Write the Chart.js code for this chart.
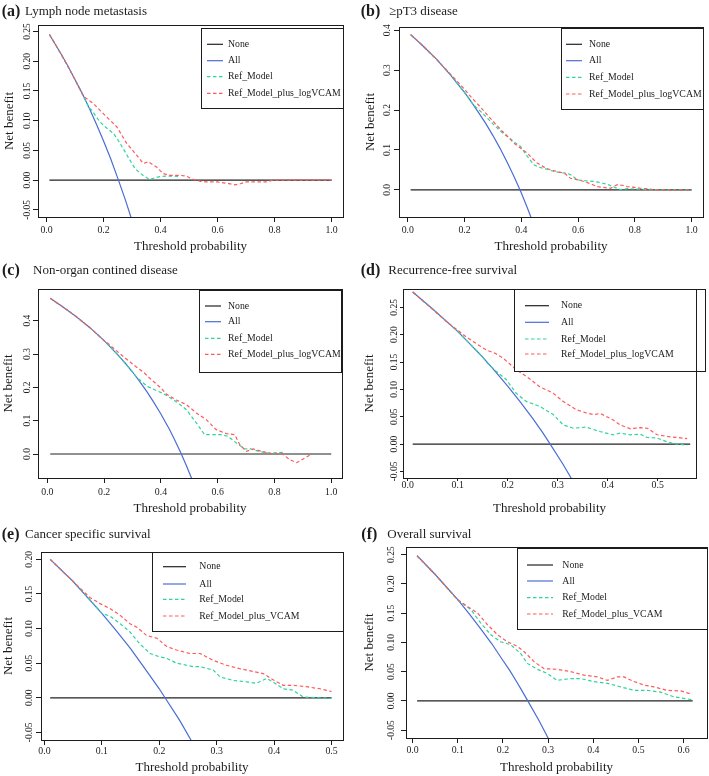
<!DOCTYPE html>
<html>
<head>
<meta charset="utf-8">
<script src="https://cdn.jsdelivr.net/npm/chart.js@4.4.0/dist/chart.umd.min.js"></script>
<style>
  html, body { margin: 0; padding: 0; background: #fff; }
  #wrap { position: relative; width: 709px; height: 776px; }
  #wrap canvas { position: absolute; left: 0; top: 0; }
</style>
</head>
<body>
<div id="wrap">
  <canvas id="pa" width="709" height="776"></canvas>
  <canvas id="pb" width="709" height="776"></canvas>
  <canvas id="pc" width="709" height="776"></canvas>
  <canvas id="pd" width="709" height="776"></canvas>
  <canvas id="pe" width="709" height="776"></canvas>
  <canvas id="pf" width="709" height="776"></canvas>
</div>
<script>
// ---- names and tick labels ----
const namesLog = ['None', 'All', 'Ref_Model', 'Ref_Model_plus_logVCAM'];
const namesVcam = ['None', 'All', 'Ref_Model', 'Ref_Model_plus_VCAM'];
const panelTags = ['(a)', '(b)', '(c)', '(d)', '(e)', '(f)'];
const panelTitles = ['Lymph node metastasis', '\u2265pT3 disease', 'Non-organ contined disease',
  'Recurrence-free survival', 'Cancer specific survival', 'Overall survival'];

const xTicksUnit = ['0.0', '0.2', '0.4', '0.6', '0.8', '1.0'];
const xTicksHalf = ['0.0', '0.1', '0.2', '0.3', '0.4', '0.5'];
const xTicksSix = ['0.0', '0.1', '0.2', '0.3', '0.4', '0.5', '0.6'];
const yTicksQuarter = ['-0.05', '0.00', '0.05', '0.10', '0.15', '0.20', '0.25'];
const yTicksFifth = ['-0.05', '0.00', '0.05', '0.10', '0.15', '0.20'];
const yTicksTenth = ['0.0', '0.1', '0.2', '0.3', '0.4'];

// ---- (a) Lymph node metastasis ----
const aNoneX = [0.01, 1.0];
const aNoneY = [0, 0];
const aAllX = [0.01, 0.05, 0.075, 0.10, 0.125, 0.15, 0.175, 0.20, 0.225, 0.25, 0.275, 0.30];
const aAllY = [0.245, 0.213, 0.192, 0.169, 0.146, 0.121, 0.094, 0.066, 0.036, 0.003, -0.031, -0.068];
const aRefX = [0.01, 0.05, 0.10, 0.15, 0.158, 0.187, 0.21, 0.234, 0.25, 0.269, 0.292, 0.31, 0.325, 0.339, 0.362, 0.38, 0.397, 0.432, 0.468];
const aRefY = [0.245, 0.213, 0.169, 0.121, 0.118, 0.098, 0.088, 0.079, 0.068, 0.053, 0.034, 0.020, 0.013, 0.008, 0.001, 0.004, 0.006, 0.007, 0.006];
const aPlusX = [0.01, 0.05, 0.10, 0.13, 0.164, 0.205, 0.246, 0.281, 0.316, 0.339, 0.357, 0.386, 0.409, 0.433, 0.468, 0.49, 0.515, 0.54, 0.56, 0.60, 0.64, 0.661, 0.68, 0.70, 0.74, 0.77, 0.795, 0.85, 0.9, 0.95, 1.0];
const aPlusY = [0.245, 0.213, 0.169, 0.141, 0.129, 0.109, 0.090, 0.062, 0.042, 0.028, 0.031, 0.022, 0.011, 0.008, 0.008, 0.007, 0.001, -0.002, -0.003, -0.003, -0.006, -0.008, -0.006, -0.003, -0.003, -0.003, 0, 0, 0, 0, 0];

// ---- (b) >=pT3 disease ----
const bNoneX = [0.01, 1.0];
const bNoneY = [0, 0];
const bAllX = [0.01, 0.05, 0.10, 0.15, 0.20, 0.225, 0.25, 0.275, 0.30, 0.325, 0.35, 0.375, 0.40, 0.42, 0.44];
const bAllY = [0.389, 0.363, 0.328, 0.288, 0.244, 0.219, 0.193, 0.166, 0.136, 0.104, 0.069, 0.032, -0.008, -0.043, -0.080];
const bRefX = [0.01, 0.05, 0.10, 0.15, 0.20, 0.23, 0.256, 0.28, 0.303, 0.33, 0.35, 0.375, 0.397, 0.41, 0.421, 0.444, 0.46, 0.479, 0.515, 0.54, 0.562, 0.58, 0.597, 0.62, 0.656, 0.68, 0.703, 0.73, 0.75, 0.773, 0.8, 0.85, 0.9, 0.95, 1.0];
const bRefY = [0.389, 0.363, 0.328, 0.288, 0.244, 0.214, 0.197, 0.180, 0.163, 0.145, 0.134, 0.120, 0.109, 0.095, 0.084, 0.063, 0.057, 0.054, 0.046, 0.043, 0.042, 0.035, 0.025, 0.023, 0.021, 0.018, 0.014, 0.006, 0.000, 0.003, 0.002, 0.001, 0, 0, 0];
const bPlusX = [0.01, 0.05, 0.10, 0.15, 0.174, 0.20, 0.221, 0.25, 0.28, 0.30, 0.327, 0.35, 0.374, 0.40, 0.421, 0.44, 0.456, 0.48, 0.503, 0.538, 0.555, 0.573, 0.60, 0.62, 0.645, 0.667, 0.69, 0.714, 0.738, 0.76, 0.773, 0.80, 0.82, 0.85, 0.867, 0.9, 0.95, 1.0];
const bPlusY = [0.389, 0.363, 0.328, 0.290, 0.272, 0.252, 0.234, 0.212, 0.188, 0.172, 0.151, 0.135, 0.117, 0.103, 0.092, 0.078, 0.067, 0.057, 0.050, 0.044, 0.040, 0.029, 0.025, 0.021, 0.015, 0.008, 0.006, 0.004, 0.013, 0.011, 0.008, 0.006, 0.004, 0.002, 0, 0, -0.001, 0];

// ---- (c) Non-organ confined disease ----
const cNoneX = [0.01, 1.0];
const cNoneY = [0, 0];
const cAllX = [0.01, 0.05, 0.10, 0.15, 0.20, 0.25, 0.275, 0.30, 0.325, 0.35, 0.375, 0.40, 0.415, 0.43, 0.45, 0.47, 0.49, 0.51];
const cAllY = [0.467, 0.444, 0.413, 0.379, 0.340, 0.296, 0.272, 0.246, 0.218, 0.188, 0.155, 0.120, 0.097, 0.074, 0.040, 0.004, -0.035, -0.077];
const cRefX = [0.01, 0.05, 0.10, 0.15, 0.20, 0.25, 0.30, 0.313, 0.335, 0.354, 0.38, 0.407, 0.43, 0.454, 0.49, 0.525, 0.554, 0.578, 0.613, 0.636, 0.666, 0.695, 0.713, 0.748, 0.784, 0.831];
const cRefY = [0.467, 0.444, 0.413, 0.379, 0.340, 0.296, 0.246, 0.232, 0.215, 0.202, 0.192, 0.182, 0.170, 0.157, 0.133, 0.093, 0.058, 0.058, 0.058, 0.053, 0.033, 0.015, 0.016, 0.007, 0.003, 0.005];
const cPlusX = [0.01, 0.05, 0.10, 0.15, 0.20, 0.213, 0.25, 0.30, 0.342, 0.36, 0.40, 0.419, 0.454, 0.49, 0.525, 0.56, 0.595, 0.631, 0.66, 0.678, 0.701, 0.725, 0.76, 0.795, 0.825, 0.854, 0.878, 0.907, 0.931];
const cPlusY = [0.467, 0.444, 0.413, 0.379, 0.340, 0.332, 0.305, 0.270, 0.243, 0.228, 0.198, 0.180, 0.162, 0.148, 0.123, 0.103, 0.073, 0.061, 0.058, 0.028, 0.008, 0.015, 0.007, 0.000, 0.002, -0.017, -0.026, -0.012, 0.000];

// ---- (d) Recurrence-free survival ----
const dNoneX = [0.01, 0.565];
const dNoneY = [0, 0];
const dAllX = [0.01, 0.05, 0.10, 0.15, 0.175, 0.20, 0.225, 0.25, 0.27, 0.285, 0.31, 0.33];
const dAllY = [0.278, 0.247, 0.206, 0.159, 0.133, 0.106, 0.077, 0.047, 0.021, 0.000, -0.036, -0.067];
const dRefX = [0.01, 0.05, 0.10, 0.15, 0.157, 0.177, 0.197, 0.217, 0.237, 0.264, 0.291, 0.311, 0.331, 0.357, 0.384, 0.411, 0.425, 0.445, 0.465, 0.479, 0.499, 0.519, 0.539, 0.559];
const dRefY = [0.278, 0.247, 0.206, 0.159, 0.150, 0.133, 0.118, 0.093, 0.078, 0.069, 0.054, 0.035, 0.029, 0.031, 0.023, 0.017, 0.020, 0.017, 0.018, 0.012, 0.011, 0.004, 0.000, -0.002];
const dPlusX = [0.01, 0.05, 0.08, 0.10, 0.117, 0.14, 0.157, 0.175, 0.191, 0.217, 0.237, 0.264, 0.291, 0.311, 0.337, 0.357, 0.372, 0.385, 0.411, 0.425, 0.445, 0.465, 0.479, 0.499, 0.519, 0.539, 0.559];
const dPlusY = [0.278, 0.246, 0.222, 0.208, 0.196, 0.182, 0.172, 0.166, 0.157, 0.136, 0.124, 0.105, 0.093, 0.078, 0.063, 0.057, 0.054, 0.056, 0.044, 0.035, 0.028, 0.030, 0.029, 0.017, 0.014, 0.012, 0.010];

// ---- (e) Cancer specific survival ----
const eNoneX = [0.01, 0.50];
const eNoneY = [0, 0];
const eAllX = [0.01, 0.05, 0.10, 0.125, 0.15, 0.175, 0.20, 0.21, 0.235, 0.26];
const eAllY = [0.200, 0.168, 0.122, 0.097, 0.071, 0.042, 0.013, 0.000, -0.032, -0.068];
const eRefX = [0.01, 0.05, 0.08, 0.10, 0.114, 0.132, 0.149, 0.166, 0.184, 0.201, 0.213, 0.230, 0.248, 0.259, 0.271, 0.294, 0.306, 0.329, 0.352, 0.369, 0.387, 0.398, 0.416, 0.433, 0.451, 0.48, 0.50];
const eRefY = [0.200, 0.168, 0.141, 0.122, 0.118, 0.107, 0.095, 0.078, 0.064, 0.059, 0.057, 0.050, 0.047, 0.045, 0.045, 0.040, 0.030, 0.025, 0.023, 0.021, 0.028, 0.023, 0.013, 0.011, 0.001, 0.000, -0.001];
const ePlusX = [0.01, 0.05, 0.079, 0.097, 0.114, 0.132, 0.149, 0.161, 0.178, 0.196, 0.213, 0.230, 0.253, 0.271, 0.294, 0.317, 0.340, 0.364, 0.381, 0.398, 0.416, 0.433, 0.456, 0.48, 0.50];
const ePlusY = [0.200, 0.168, 0.145, 0.136, 0.129, 0.119, 0.107, 0.102, 0.090, 0.086, 0.074, 0.069, 0.064, 0.064, 0.054, 0.047, 0.042, 0.038, 0.035, 0.026, 0.018, 0.018, 0.016, 0.013, 0.009];

// ---- (f) Overall survival ----
const fNoneX = [0.01, 0.62];
const fNoneY = [0, 0];
const fAllX = [0.01, 0.05, 0.10, 0.125, 0.15, 0.175, 0.20, 0.215, 0.23, 0.24, 0.255, 0.28, 0.305];
const fAllY = [0.248, 0.216, 0.173, 0.149, 0.124, 0.098, 0.069, 0.052, 0.033, 0.020, 0.000, -0.034, -0.071];
const fRefX = [0.01, 0.05, 0.10, 0.129, 0.151, 0.173, 0.195, 0.217, 0.239, 0.254, 0.276, 0.298, 0.320, 0.350, 0.372, 0.401, 0.431, 0.460, 0.490, 0.519, 0.549, 0.578, 0.619];
const fRefY = [0.248, 0.216, 0.172, 0.156, 0.133, 0.113, 0.101, 0.096, 0.081, 0.064, 0.054, 0.047, 0.035, 0.038, 0.038, 0.033, 0.030, 0.024, 0.018, 0.018, 0.015, 0.007, 0.002];
const fPlusX = [0.01, 0.05, 0.10, 0.122, 0.144, 0.166, 0.188, 0.210, 0.232, 0.247, 0.269, 0.291, 0.320, 0.350, 0.379, 0.409, 0.431, 0.453, 0.468, 0.490, 0.512, 0.534, 0.563, 0.593, 0.619];
const fPlusY = [0.248, 0.216, 0.173, 0.161, 0.150, 0.130, 0.113, 0.101, 0.093, 0.084, 0.067, 0.055, 0.054, 0.050, 0.044, 0.041, 0.035, 0.041, 0.041, 0.033, 0.027, 0.024, 0.018, 0.017, 0.011];

// ---- styling ----
const FONT = "'Liberation Serif', 'Times New Roman', serif";
const INK = '#1c1c1c';
const lineStyles = [
  { color: '#222222', dash: [] },
  { color: '#4a6dd4', dash: [] },
  { color: '#2fd49c', dash: [3.5, 2.5] },
  { color: '#ff5a5a', dash: [3.5, 2.5] }
];

// page positions of each panel (plot box l, r, t, b and text anchors)
const panels = [
  { canvas: 'pa', left: 0, box: [38, 343, 25, 217], xr: [-0.03, 1.04], yr: [-0.062, 0.261],
    xt: xTicksUnit, yt: yTicksQuarter, names: namesLog, tick: 5,
    yTickX: 27, yTitleX: 10, xTickY: 230, xTitleY: 246.7, tag: [1.7, 25, 11.7],
    legend: { l: 201, r: 343, t: 28, b: 108, s1: 207, s2: 223, tx: 228, rows: [44.3, 60.7, 76.7, 93.3] },
    series: [[aNoneX, aNoneY], [aAllX, aAllY], [aRefX, aRefY], [aPlusX, aPlusY]] },
  { canvas: 'pb', left: 354, box: [399, 703, 27, 217], xr: [-0.031, 1.04], yr: [-0.068, 0.408],
    xt: xTicksUnit, yt: yTicksTenth, names: namesLog, tick: 5,
    yTickX: 387, yTitleX: 370.7, xTickY: 230, xTitleY: 246.7, tag: [360.7, 389, 11.7],
    legend: { l: 561, r: 703, t: 28, b: 109, s1: 566, s2: 582, tx: 589, rows: [44.3, 60.7, 77.3, 94] },
    series: [[bNoneX, bNoneY], [bAllX, bAllY], [bRefX, bRefY], [bPlusX, bPlusY]] },
  { canvas: 'pc', left: 0, box: [38, 342, 289, 478], xr: [-0.033, 1.038], yr: [-0.072, 0.495],
    xt: xTicksUnit, yt: yTicksTenth, names: namesLog, tick: 5,
    yTickX: 27, yTitleX: 9, xTickY: 492.3, xTitleY: 509, tag: [2, 33, 271],
    legend: { l: 199, r: 341, t: 290, b: 372, s1: 205, s2: 221, tx: 228, rows: [306, 321.7, 338.3, 354.3] },
    series: [[cNoneX, cNoneY], [cAllX, cAllY], [cRefX, cRefY], [cPlusX, cPlusY]] },
  { canvas: 'pd', left: 354, box: [403, 696, 289, 478], xr: [-0.0094, 0.5766], yr: [-0.062, 0.2835],
    xt: xTicksHalf, yt: yTicksQuarter, names: namesLog, tick: 3,
    yTickX: 394.5, yTitleX: 369.3, xTickY: 485, xTitleY: 508.3, tag: [360.7, 388.3, 271],
    legend: { l: 514, r: 705, t: 289, b: 371, s1: 525, s2: 549, tx: 561, rows: [305.7, 322.3, 339, 354] },
    series: [[dNoneX, dNoneY], [dAllX, dAllY], [dRefX, dRefY], [dPlusX, dPlusY]] },
  { canvas: 'pe', left: 0, box: [41, 343, 552, 740], xr: [-0.006, 0.52], yr: [-0.061, 0.2106],
    xt: xTicksHalf, yt: yTicksFifth, names: namesVcam, tick: 5,
    yTickX: 29.7, yTitleX: 9, xTickY: 751.7, xTitleY: 767.3, tag: [1.7, 25, 535],
    legend: { l: 152, r: 343, t: 552, b: 631, s1: 163, s2: 186, tx: 199.3, rows: [566.7, 584, 599.3, 616] },
    series: [[eNoneX, eNoneY], [eAllX, eAllY], [eRefX, eRefY], [ePlusX, ePlusY]] },
  { canvas: 'pf', left: 354, box: [406, 707, 547, 738], xr: [-0.0146, 0.6517], yr: [-0.0635, 0.263],
    xt: xTicksSix, yt: yTicksQuarter, names: namesVcam, tick: 5,
    yTickX: 391.3, yTitleX: 369.3, xTickY: 750, xTitleY: 767.3, tag: [361.3, 387.3, 535],
    legend: { l: 517, r: 707, t: 548, b: 629, s1: 527, s2: 553, tx: 562.3, rows: [565, 581, 597.7, 614] },
    series: [[fNoneX, fNoneY], [fAllX, fAllY], [fRefX, fRefY], [fPlusX, fPlusY]] }
];

// plot box, legend and panel heading
const panelDeco = {
  id: 'panelDeco',
  afterDraw(chart, args, o) {
    const ctx = chart.ctx;
    const a = chart.chartArea;
    const L = o.legend;
    ctx.save();
    ctx.fillStyle = '#fff';
    ctx.fillRect(L.l, L.t, L.r - L.l, L.b - L.t);
    ctx.strokeStyle = INK;
    ctx.lineWidth = 1;
    ctx.strokeRect(L.l + 0.5, L.t + 0.5, L.r - L.l, L.b - L.t);
    chart.data.datasets.forEach((ds, i) => {
      const y = L.rows[i];
      ctx.strokeStyle = ds.borderColor;
      ctx.lineWidth = ds.borderWidth;
      ctx.setLineDash(ds.borderDash);
      ctx.beginPath();
      ctx.moveTo(L.s1, y);
      ctx.lineTo(L.s2, y);
      ctx.stroke();
      ctx.setLineDash([]);
      ctx.fillStyle = INK;
      ctx.font = '9.8px ' + FONT;
      ctx.textAlign = 'left';
      ctx.textBaseline = 'middle';
      ctx.fillText(ds.label, L.tx, y);
    });
    ctx.strokeStyle = INK;
    ctx.lineWidth = 1;
    ctx.strokeRect(Math.round(a.left) + 0.5, Math.round(a.top) + 0.5,
      Math.round(a.right - a.left), Math.round(a.bottom - a.top));
    ctx.fillStyle = INK;
    ctx.textBaseline = 'middle';
    ctx.font = 'bold 16px ' + FONT;
    ctx.fillText(o.tag, o.tagPos[0], o.tagPos[2]);
    ctx.font = '13px ' + FONT;
    ctx.fillText(o.title, o.tagPos[1], o.tagPos[2]);
    ctx.restore();
  }
};

const measure = document.createElement('canvas').getContext('2d');
measure.font = '9.5px ' + FONT;

panels.forEach((p, k) => {
  const [l, r, t, b] = p.box;
  const xh = Math.min(40, 776 - b);
  const widest = Math.max(...p.yt.map(s => measure.measureText(s).width));
  const datasets = p.series.map((s, i) => ({
    label: p.names[i],
    data: s[0].map((x, j) => ({ x: x, y: s[1][j] })),
    borderColor: lineStyles[i].color,
    borderDash: lineStyles[i].dash,
    borderWidth: 1.2,
    pointRadius: 0,
    tension: 0,
    fill: false,
    order: 3 - i
  }));
  const axisGrid = { display: true, drawOnChartArea: false, drawTicks: true, tickLength: p.tick, color: INK, lineWidth: 1 };

  new Chart(document.getElementById(p.canvas), {
    type: 'line',
    data: { datasets: datasets },
    options: {
      responsive: false,
      animation: false,
      events: [],
      layout: { padding: { left: p.left, top: t, right: 709 - r, bottom: 776 - b - xh } },
      plugins: {
        legend: { display: false },
        tooltip: { enabled: false },
        panelDeco: { legend: p.legend, tag: panelTags[k], title: panelTitles[k], tagPos: p.tag }
      },
      scales: {
        x: {
          type: 'linear',
          min: p.xr[0],
          max: p.xr[1],
          afterBuildTicks: sc => { sc.ticks = p.xt.map(s => ({ value: parseFloat(s) })); },
          afterFit: sc => { sc.height = xh; },
          grid: axisGrid,
          border: { display: false },
          ticks: {
            autoSkip: false, minRotation: 0, maxRotation: 0,
            font: { family: FONT, size: 9.8 }, color: INK,
            padding: p.xTickY - b - p.tick - 5.9,
            callback: (v, i) => p.xt[i]
          },
          title: {
            display: true, text: 'Threshold probability', color: INK,
            font: { family: FONT, size: 13 },
            padding: { top: 0, bottom: b + xh - p.xTitleY - 7.8 }
          }
        },
        y: {
          type: 'linear',
          min: p.yr[0],
          max: p.yr[1],
          afterBuildTicks: sc => { sc.ticks = p.yt.map(s => ({ value: parseFloat(s) })); },
          afterFit: sc => { sc.width = l - p.left; },
          grid: axisGrid,
          border: { display: false },
          ticks: {
            autoSkip: false, minRotation: 90, maxRotation: 90, crossAlign: 'center',
            font: { family: FONT, size: 9.5 }, color: INK,
            padding: l - p.tick - widest / 2 - p.yTickX,
            callback: (v, i) => p.yt[i]
          },
          title: {
            display: true, text: 'Net benefit', color: INK,
            font: { family: FONT, size: 13 },
            padding: { top: p.yTitleX - p.left - 7.8, bottom: 0 }
          }
        }
      }
    },
    plugins: [panelDeco]
  });
});
</script>
</body>
</html>
